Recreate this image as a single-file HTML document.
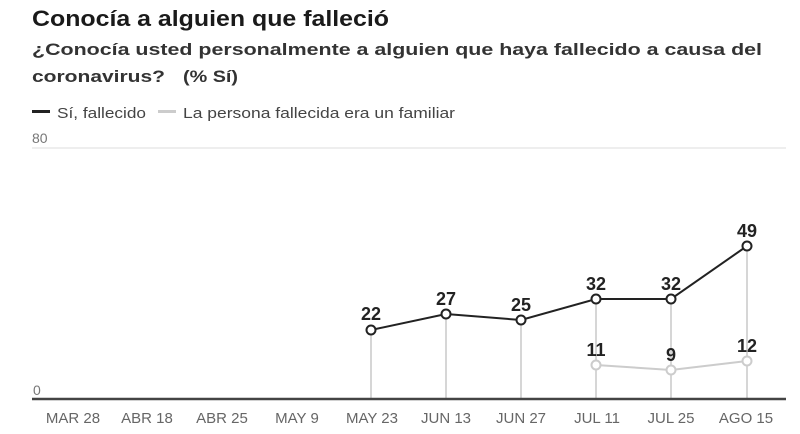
<!DOCTYPE html>
<html><head><meta charset="utf-8"><style>
html,body{margin:0;padding:0;background:#fff;}
svg{display:block;}
text{font-family:"Liberation Sans",sans-serif;}
</style></head><body>
<svg width="800" height="434" viewBox="0 0 800 434" xmlns="http://www.w3.org/2000/svg">
<rect width="800" height="434" fill="#fff"/>
<text x="32" y="26" font-size="22" font-weight="bold" fill="#1a1a1a" textLength="357" lengthAdjust="spacingAndGlyphs">Conocía a alguien que falleció</text>
<text x="32" y="55" font-size="17" font-weight="bold" fill="#333" textLength="730" lengthAdjust="spacingAndGlyphs">¿Conocía usted personalmente a alguien que haya fallecido a causa del</text>
<text x="32" y="82" font-size="17" font-weight="bold" fill="#333" textLength="133" lengthAdjust="spacingAndGlyphs">coronavirus?</text>
<text x="183" y="82" font-size="17" font-weight="bold" fill="#333" textLength="55" lengthAdjust="spacingAndGlyphs">(% Sí)</text>
<line x1="32" y1="111.5" x2="50" y2="111.5" stroke="#222" stroke-width="3"/>
<text x="57" y="118" font-size="15" fill="#444" textLength="89" lengthAdjust="spacingAndGlyphs">Sí, fallecido</text>
<line x1="158" y1="111.5" x2="176" y2="111.5" stroke="#ccc" stroke-width="3"/>
<text x="183" y="118" font-size="15" fill="#444" textLength="272" lengthAdjust="spacingAndGlyphs">La persona fallecida era un familiar</text>
<text x="32" y="143" font-size="14" fill="#777">80</text>
<line x1="32" y1="148" x2="786" y2="148" stroke="#ddd" stroke-width="1"/>
<text x="33" y="395" font-size="14" fill="#777">0</text>
<g stroke="#c8c8c8" stroke-width="1.5">
<line x1="371" y1="330" x2="371" y2="399"/>
<line x1="446" y1="314" x2="446" y2="399"/>
<line x1="521" y1="320" x2="521" y2="399"/>
<line x1="596" y1="299" x2="596" y2="399"/>
<line x1="671" y1="299" x2="671" y2="399"/>
<line x1="747" y1="246" x2="747" y2="399"/>
</g>
<line x1="32" y1="399" x2="786" y2="399" stroke="#444" stroke-width="2.5"/>
<polyline points="596,365 671,370 747,361" fill="none" stroke="#ccc" stroke-width="2"/>
<g fill="#fff" stroke="#ccc" stroke-width="2">
<circle cx="596" cy="365" r="4.5"/><circle cx="671" cy="370" r="4.5"/><circle cx="747" cy="361" r="4.5"/>
</g>
<polyline points="371,330 446,314 521,320 596,299 671,299 747,246" fill="none" stroke="#222" stroke-width="2"/>
<g fill="#fff" stroke="#222" stroke-width="2">
<circle cx="371" cy="330" r="4.5"/><circle cx="446" cy="314" r="4.5"/><circle cx="521" cy="320" r="4.5"/>
<circle cx="596" cy="299" r="4.5"/><circle cx="671" cy="299" r="4.5"/><circle cx="747" cy="246" r="4.5"/>
</g>
<g font-size="18" font-weight="bold" fill="#222" text-anchor="middle">
<text x="371" y="320">22</text>
<text x="446" y="305">27</text>
<text x="521" y="311">25</text>
<text x="596" y="290">32</text>
<text x="671" y="290">32</text>
<text x="747" y="237">49</text>
<text x="596" y="356">11</text>
<text x="671" y="361">9</text>
<text x="747" y="352">12</text>
</g>
<g font-size="15" fill="#666" text-anchor="middle">
<text x="73" y="423">MAR 28</text>
<text x="147" y="423">ABR 18</text>
<text x="222" y="423">ABR 25</text>
<text x="297" y="423">MAY 9</text>
<text x="372" y="423">MAY 23</text>
<text x="446" y="423">JUN 13</text>
<text x="521" y="423">JUN 27</text>
<text x="597" y="423">JUL 11</text>
<text x="671" y="423">JUL 25</text>
<text x="746" y="423">AGO 15</text>
</g>
</svg>
</body></html>
